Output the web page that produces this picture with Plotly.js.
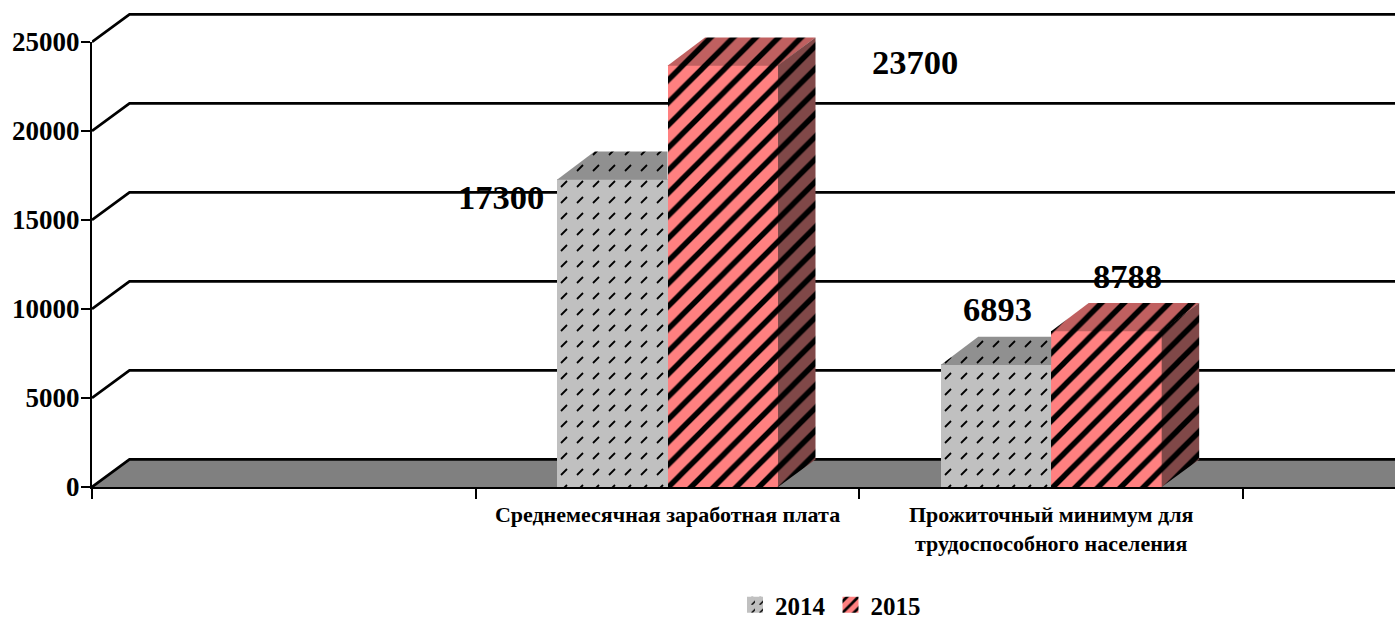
<!DOCTYPE html>
<html><head><meta charset="utf-8">
<script src="https://cdn.plot.ly/plotly-3.0.1.min.js"></script>
<style>html,body{margin:0;padding:0;background:#fff}#c{width:1395px;height:617px}</style>
</head><body><div id="c"></div>
<script>
const categories = ['', 'Среднемесячная заработная плата', 'Прожиточный минимум для<br>трудоспособного населения', ''];
const seriesNames = ['2014', '2015'];
const values2014 = [null, 17300, 6893, null];
const values2015 = [null, 23700, 8788, null];
const yTicks = [0, 5000, 10000, 15000, 20000, 25000];

// chart geometry, in data units of the axes
const W = 1395, H = 617, L = 92, B = 130;
const plotH = H - B, unitPx = 383.67, valPx = 445 / 25000;
const xMin = -0.5, xMax = xMin + (W - L) / unitPx, yMaxExt = plotH / valPx;
const DX = 37.5 / unitPx, DY = 27.6 / valPx, barW = 110.5 / unitPx, seam = 0.7 / valPx;
const FONT = '"Liberation Serif","Times New Roman",serif';

const idx = categories.map((_, i) => i);
const grayPat = bg => ({shape: '.', size: 16, solidity: 0.06, fgcolor: '#000', bgcolor: bg});
const redPat = bg => ({shape: '/', size: 16, solidity: 0.34, fgcolor: '#000', bgcolor: bg});

function face(xs, ys, pat) {
  return {type: 'scatter', xaxis: 'x', yaxis: 'y3', mode: 'lines', x: xs, y: ys, fill: 'toself',
    fillcolor: pat.bgcolor, fillpattern: pat, line: {width: 0}, showlegend: false, hoverinfo: 'skip'};
}
const traces = [];
// baseline on the main axes, so the real y axis is drawn
traces.push({type: 'scatter', mode: 'lines', xaxis: 'x', yaxis: 'y', x: [xMin, xMax], y: [0, 0],
  line: {color: '#000', width: 2}, showlegend: false, hoverinfo: 'skip'});
// floor
traces.push({type: 'scatter', mode: 'lines', xaxis: 'x', yaxis: 'y2',
  x: [xMin, xMin + DX, xMax, xMax, xMin], y: [0, DY, DY, 0, 0], fill: 'toself', fillcolor: '#808080',
  line: {width: 0}, showlegend: false, hoverinfo: 'skip'});
// back-wall grid with the diagonals on the side wall
const gx = [], gy = [];
yTicks.forEach(v => { gx.push(xMin, xMin + DX, xMax, null); gy.push(v, v + DY, v + DY, null); });
traces.push({type: 'scatter', mode: 'lines', xaxis: 'x', yaxis: 'y2', x: gx, y: gy,
  line: {color: '#000', width: 2.7}, showlegend: false, hoverinfo: 'skip'});
// bars
[[values2014, '#C0C0C0', grayPat], [values2015, '#FF8080', redPat]].forEach((s, k) => {
  traces.push({type: 'bar', name: seriesNames[k], xaxis: 'x', yaxis: 'y3', x: idx, y: s[0], width: barW,
    offset: k === 0 ? -barW : 0,
    marker: {color: s[1], line: {width: 0}, pattern: s[2](s[1])}, hoverinfo: 'skip'});
});
// 3D faces computed from the values
idx.forEach(i => {
  const a = values2014[i], b = values2015[i];
  if (a == null) return;
  // gray top, cut where the taller neighbour covers it
  traces.push(face([i - barW, i - barW + DX, i, i, i - barW], [a - seam, a + DY, a + DY, a - seam, a - seam], grayPat('#909090')));
  // red top and side
  traces.push(face([i, i + DX, i + barW + DX, i + barW, i], [b - seam, b + DY, b + DY, b - seam, b - seam], redPat('#C06060')));
  traces.push(face([i + barW, i + barW + DX, i + barW + DX, i + barW, i + barW], [0, DY, b + DY, b, 0], redPat('#804848')));
});

const labelFont = {family: FONT, size: 34.5, color: '#000'};
const labelShift = [[-111, -18], [192, 3], [1.5, 55], [21, 55]];
const labelled = [[1, values2014[1], -barW / 2], [1, values2015[1], barW / 2], [2, values2014[2], -barW / 2], [2, values2015[2], barW / 2]];
const annotations = labelled.map((p, n) => ({xref: 'x', yref: 'y3', x: p[0] + p[2], y: p[1],
  text: '<b>' + p[1] + '</b>', showarrow: false, font: labelFont, xanchor: 'center', yanchor: 'middle',
  xshift: labelShift[n][0], yshift: labelShift[n][1]}));

const layout = {
  width: W, height: H, autosize: false,
  margin: {l: L, r: 0, t: 0, b: B, pad: 0},
  paper_bgcolor: '#fff', plot_bgcolor: 'rgba(0,0,0,0)',
  font: {family: FONT, color: '#000'},
  bargap: 0, barmode: 'overlay',
  xaxis: {range: [xMin, xMax], tickmode: 'array', tickvals: idx, ticktext: categories.map(c => '<b>' + c + '</b>'),
    ticks: '', ticklen: 0, showgrid: false, zeroline: false, showline: true, linecolor: '#000', linewidth: 2,
    tickangle: 0, automargin: false, ticklabelstandoff: 7, tickfont: {family: FONT, size: 22, color: '#000'},
    minor: {tickmode: 'array', tickvals: [-0.5, 0.5, 1.5, 2.5], ticks: 'outside', ticklen: 10, tickwidth: 2, tickcolor: '#000', showgrid: false}},
  yaxis: {domain: [0, 25000 * valPx / plotH], range: [0, 25000], tickmode: 'array', tickvals: yTicks,
    ticktext: yTicks.map(v => '<b>' + v + '</b>'), ticks: 'outside', ticklen: 9, tickwidth: 2, tickcolor: '#000',
    showline: true, linecolor: '#000', linewidth: 2, showgrid: false, zeroline: false, automargin: false,
    ticklabelstandoff: -4, tickfont: {family: FONT, size: 27, color: '#000'}},
  yaxis2: {domain: [0, 1], range: [0, yMaxExt], visible: false, anchor: 'x'},
  yaxis3: {domain: [0, 1], range: [0, yMaxExt], visible: false, anchor: 'x'},
  legend: {orientation: 'h', xref: 'container', yref: 'container', x: 735 / W, xanchor: 'left', y: 1 - 582 / H, yanchor: 'top',
    font: {family: FONT, size: 25, color: '#000', weight: 'bold'}, bgcolor: 'rgba(0,0,0,0)', itemclick: false, itemdoubleclick: false},
  showlegend: true,
  annotations: annotations
};
Plotly.newPlot('c', traces, layout, {displayModeBar: false, staticPlot: true}).then(() => {
  // the gray fill of the reference is short slanted dashes: reshape the pattern's mark
  document.querySelectorAll('pattern circle').forEach(c => {
    const p = document.createElementNS('http://www.w3.org/2000/svg', 'path');
    p.setAttribute('d', 'M5,11L11,5');
    p.setAttribute('stroke', '#000');
    p.setAttribute('stroke-width', '1.8');
    p.setAttribute('fill', 'none');
    c.parentNode.replaceChild(p, c);
  });
  // the legend swatches of the reference are 16px squares
  document.querySelectorAll('.legendpoints path').forEach(p => p.setAttribute('d', 'M8,8H-8V-8H8Z'));
});
</script></body></html>
